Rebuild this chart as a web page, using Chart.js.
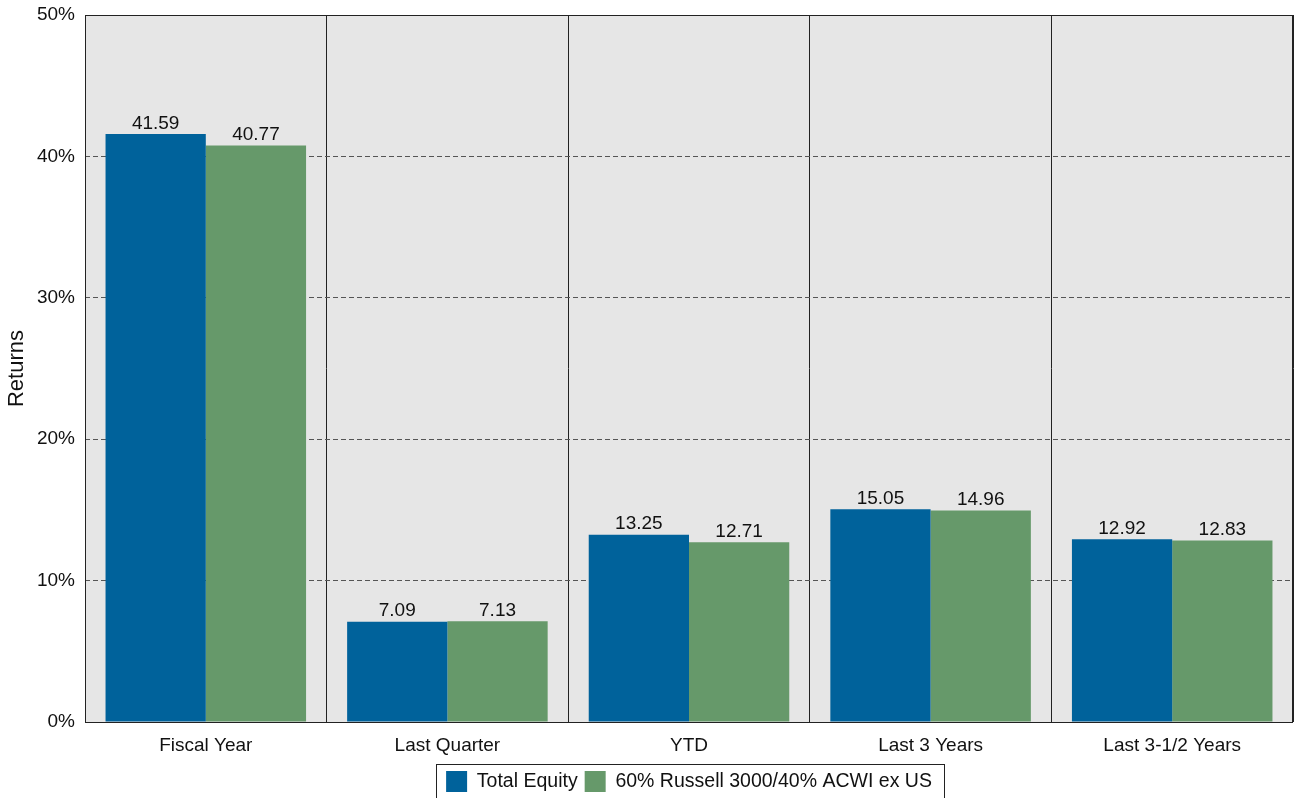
<!DOCTYPE html>
<html lang="en">
<head>
<meta charset="UTF-8">
<title>Returns</title>
<script src="https://cdn.jsdelivr.net/npm/chart.js"></script>
<style>
  html, body { margin: 0; padding: 0; background: #fff; overflow: hidden; }
  .chart-container { width: 1294px; height: 798px; position: relative; }
</style>
</head>
<body>
<div class="chart-container"><canvas id="chart"></canvas></div>
<script>
const categories = ['Fiscal Year', 'Last Quarter', 'YTD', 'Last 3 Years', 'Last 3-1/2 Years'];
const totalEquity = [41.59, 7.09, 13.25, 15.05, 12.92];
const benchmark = [40.77, 7.13, 12.71, 14.96, 12.83];
const seriesNames = ['Total Equity', '60% Russell 3000/40% ACWI ex US'];
const yTicks = [0, 10, 20, 30, 40, 50];

const FONT = '"Liberation Sans", Arial, sans-serif';

// plot background + frame + value labels + legend box
const extras = {
  id: 'extras',
  beforeDraw(chart) {
    const { ctx, chartArea: a } = chart;
    ctx.save();
    ctx.fillStyle = '#e6e6e6';
    ctx.fillRect(a.left, a.top, a.right - a.left, a.bottom - a.top);
    ctx.restore();
  },
  afterDatasetsDraw(chart) {
    const { ctx, chartArea: a } = chart;
    ctx.save();
    ctx.strokeStyle = '#222';
    ctx.lineWidth = 1;
    ctx.strokeRect(Math.round(a.left) + 0.5, Math.round(a.top) + 0.5,
      Math.round(a.right - a.left) - 1, Math.round(a.bottom - a.top));
    ctx.font = '19px ' + FONT;
    ctx.fillStyle = '#111';
    ctx.textAlign = 'center';
    ctx.textBaseline = 'bottom';
    chart.data.datasets.forEach((ds, i) => {
      chart.getDatasetMeta(i).data.forEach((bar, j) => {
        ctx.fillText(ds.data[j].toFixed(2), bar.x, bar.y - 1);
      });
    });
    ctx.restore();
  },
  afterDraw(chart) {
    const boxes = chart.legend.legendHitBoxes;
    if (!boxes || !boxes.length) return;
    const { ctx } = chart;
    const first = boxes[0], last = boxes[boxes.length - 1];
    const x0 = Math.round(first.left) - 10;
    const x1 = Math.round(last.left + last.width) + 12;
    const y0 = Math.round(chart.chartArea.bottom) + 42;
    ctx.save();
    ctx.strokeStyle = '#222';
    ctx.lineWidth = 1;
    ctx.strokeRect(x0 + 0.5, y0 + 0.5, x1 - x0, 60);
    ctx.restore();
  }
};

new Chart(document.getElementById('chart'), {
  type: 'bar',
  data: {
    labels: categories,
    datasets: [
      { label: seriesNames[0], data: totalEquity, backgroundColor: '#00629b', borderWidth: 0 },
      { label: seriesNames[1], data: benchmark, backgroundColor: '#66996a', borderWidth: 0 }
    ]
  },
  options: {
    responsive: true,
    maintainAspectRatio: false,
    animation: false,
    datasets: { bar: { categoryPercentage: 0.83, barPercentage: 1 } },
    layout: { padding: { left: 0, right: 1, top: 15, bottom: -4 } },
    plugins: {
      tooltip: { enabled: false },
      legend: {
        position: 'bottom',
        fullSize: false,
        labels: {
          color: '#111',
          font: { family: FONT, size: 19.5 },
          boxWidth: 21,
          boxHeight: 21,
          padding: 7
        }
      }
    },
    scales: {
      x: {
        afterFit(scale) { scale.height = 42; },
        grid: { offset: true, color: '#222', lineWidth: 1, drawTicks: false },
        border: { display: false },
        ticks: { color: '#111', font: { family: FONT, size: 19 }, padding: 12 }
      },
      y: {
        min: 0,
        max: 50,
        afterFit(scale) { scale.width = 85; scale.paddingTop = 0; scale.paddingBottom = 0; },
        afterBuildTicks(scale) { scale.ticks = yTicks.map(v => ({ value: v })); },
        grid: {
          color: ctx => (ctx.tick && ctx.tick.value > 0 && ctx.tick.value < 50) ? '#555' : 'rgba(0,0,0,0)',
          lineWidth: 1,
          drawTicks: false
        },
        border: { display: false, dash: [5, 3] },
        ticks: {
          color: '#111',
          font: { family: FONT, size: 19 },
          padding: 10,
          callback: v => v + '%'
        },
        title: {
          display: true,
          text: 'Returns',
          color: '#111',
          font: { family: FONT, size: 22 },
          padding: { top: 4, bottom: 8 }
        }
      }
    }
  },
  plugins: [extras]
});
</script>
</body>
</html>
